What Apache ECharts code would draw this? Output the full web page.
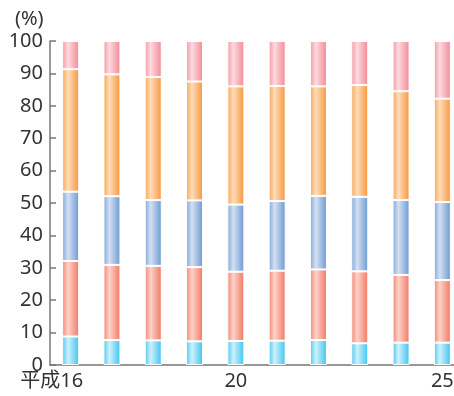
<!DOCTYPE html>
<html>
<head>
<meta charset="utf-8">
<style>
  html, body { margin: 0; padding: 0; background: #fff; }
  #chart { width: 454px; height: 396px; }
</style>
<script src="https://cdn.jsdelivr.net/npm/echarts@6/dist/echarts.min.js"></script>
</head>
<body>
<div id="chart"></div>
<script>
// Fiscal years (Heisei era) along the x axis
var years = ['平成16', '17', '18', '19', '20', '21', '22', '23', '24', '25'];
// Only these years get a printed tick label
var shownYears = ['平成16', '20', '25'];
var yTicks = [0, 10, 20, 30, 40, 50, 60, 70, 80, 90, 100];

// Composition shares (%), bottom segment first
var segCyan   = [8.8, 7.7, 7.6, 7.3, 7.4, 7.5, 7.7, 6.7, 6.9, 6.9];
var segRed    = [23.3, 23.2, 23.0, 22.9, 21.4, 21.6, 21.8, 22.2, 20.9, 19.3];
var segBlue   = [21.4, 21.2, 20.3, 20.6, 20.7, 21.5, 22.7, 23.0, 23.1, 24.1];
var segOrange = [37.8, 37.6, 38.0, 36.7, 36.5, 35.5, 33.8, 34.5, 33.6, 31.9];
var segPink   = [8.7, 10.3, 11.1, 12.5, 14.0, 13.9, 14.0, 13.6, 15.5, 17.8];

var FONT = '"Noto Sans", "Noto Sans CJK JP", sans-serif';

// Cylinder-like horizontal shading for each bar segment
function shade(edge, light, dark) {
  return new echarts.graphic.LinearGradient(0, 0, 1, 0, [
    { offset: 0, color: edge },
    { offset: 0.35, color: light },
    { offset: 1, color: dark }
  ]);
}

function seg(name, data, edge, light, dark) {
  return {
    name: name,
    type: 'bar',
    stack: 'total',
    barWidth: 17,
    data: data,
    itemStyle: {
      color: shade(edge, light, dark),
      borderColor: '#ffffff',
      borderWidth: 1
    },
    emphasis: { disabled: true }
  };
}

var chart = echarts.init(document.getElementById('chart'), null, { renderer: 'canvas' });

chart.setOption({
  animation: false,
  backgroundColor: '#ffffff',
  title: {
    text: '(%)',
    left: 10,
    top: 4,
    textStyle: { fontFamily: FONT, fontSize: 20, fontWeight: 'normal', color: '#333333' }
  },
  // plot area runs a little past the right edge of the canvas
  grid: { left: 50, top: 41, width: 413, height: 324, outerBoundsMode: 'none' },
  xAxis: {
    type: 'category',
    data: years.map(function (y, i) {
      return i === 0
        ? { value: y, textStyle: { padding: [0, 38, 0, 0] } }
        : y;
    }),
    axisLine: { show: true, lineStyle: { color: '#777777', width: 1.5 } },
    axisTick: { show: false },
    axisLabel: {
      interval: 0,
      margin: 6,
      fontFamily: FONT,
      fontSize: 20,
      color: '#333333',
      formatter: function (v) { return shownYears.indexOf(v) >= 0 ? v : ''; }
    }
  },
  yAxis: {
    type: 'value',
    min: yTicks[0],
    max: yTicks[yTicks.length - 1],
    interval: 10,
    axisLine: { show: true, lineStyle: { color: '#777777', width: 1.5 } },
    axisTick: { show: true, inside: true, length: 6, lineStyle: { color: '#777777', width: 1.5 } },
    splitLine: { show: false },
    axisLabel: { margin: 7, fontFamily: FONT, fontSize: 20, color: '#333333' }
  },
  series: [
    seg('cyan',   segCyan,   '#4cc8f0', '#cdf1fc', '#3ec3ef'),
    seg('red',    segRed,    '#f28472', '#fdd3c8', '#f07664'),
    seg('blue',   segBlue,   '#7ea6da', '#d4e0f2', '#6a98d2'),
    seg('orange', segOrange, '#f7a552', '#ffdcba', '#f5963c'),
    seg('pink',   segPink,   '#f497a1', '#fddadf', '#f28894')
  ]
});
</script>
</body>
</html>
